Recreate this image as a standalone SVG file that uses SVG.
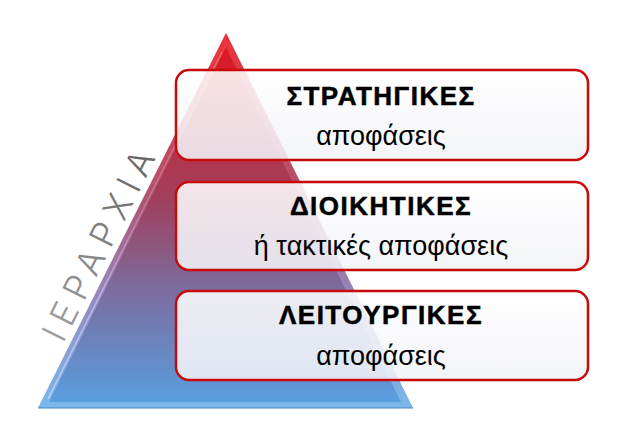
<svg xmlns="http://www.w3.org/2000/svg" width="640" height="446" viewBox="0 0 640 446">
  <defs>
    <linearGradient id="pyr" x1="0" y1="33" x2="0" y2="408" gradientUnits="userSpaceOnUse">
      <stop offset="0" stop-color="#e3141e"/>
      <stop offset="0.2" stop-color="#c42a3c"/>
      <stop offset="0.45" stop-color="#a0405e"/>
      <stop offset="0.68" stop-color="#7c6c9e"/>
      <stop offset="1" stop-color="#58a0e2"/>
    </linearGradient>
    <linearGradient id="bevel" x1="0" y1="33" x2="0" y2="408" gradientUnits="userSpaceOnUse">
      <stop offset="0" stop-color="#ff6a70"/>
      <stop offset="0.45" stop-color="#c87a98"/>
      <stop offset="0.7" stop-color="#c8b8f0"/>
      <stop offset="1" stop-color="#b8e4ff"/>
    </linearGradient>
    <linearGradient id="boxfill" x1="0" y1="0" x2="0" y2="1">
      <stop offset="0" stop-color="#ffffff" stop-opacity="0.87"/>
      <stop offset="1" stop-color="#f2f3f8" stop-opacity="0.87"/>
    </linearGradient>
    <linearGradient id="txtgrey" x1="0" y1="0" x2="1" y2="0">
      <stop offset="0" stop-color="#a0a0a0"/>
      <stop offset="1" stop-color="#666666"/>
    </linearGradient>
  </defs>
  <style>
    .box { fill: url(#boxfill); stroke: #c80a0a; stroke-width: 2.5; }
    .t1 { font-family: "Liberation Sans", Arial, sans-serif; font-weight: bold; font-size: 26px; letter-spacing: 1.5px; text-anchor: middle; fill: #000; stroke: #000; stroke-width: 0.5px; }
    .t2 { font-family: "Liberation Sans", Arial, sans-serif; font-size: 27px; text-anchor: middle; fill: #000; }
    .hier { font-family: Inter, "Liberation Sans", sans-serif; font-weight: 300; font-size: 35px; fill: url(#txtgrey); }
  </style>
  <rect width="640" height="446" fill="#ffffff"/>

  <g id="pyramid">
    <polygon points="226,33 38,408 413,408" fill="url(#pyr)"/>
    <polygon points="226,33 38,408 413,408" fill="url(#bevel)" opacity="0.35"/>
    <polygon points="226,47 49,402 401,402" fill="url(#pyr)"/>
    <line x1="222" y1="52" x2="48" y2="399" stroke="url(#bevel)" stroke-width="1.6" opacity="0.8"/>
    <line x1="38" y1="408" x2="413" y2="408" stroke="#4a86c0" stroke-width="1"/>
  </g>

  <g id="label-hierarchy">
    <text class="hier" transform="translate(63,344) rotate(-63.4)" textLength="208" lengthAdjust="spacing">ΙΕΡΑΡΧΙΑ</text>
  </g>

  <g id="node-strategic">
    <rect class="box" x="176" y="70" width="412" height="90" rx="13" ry="13"/>
    <text class="t1" x="381" y="105">ΣΤΡΑΤΗΓΙΚΕΣ</text>
    <text class="t2" x="381" y="145">αποφάσεις</text>
  </g>

  <g id="node-administrative">
    <rect class="box" x="176" y="182" width="412" height="88" rx="13" ry="13"/>
    <text class="t1" x="381" y="215">ΔΙΟΙΚΗΤΙΚΕΣ</text>
    <text class="t2" x="381" y="255">ή τακτικές αποφάσεις</text>
  </g>

  <g id="node-operational">
    <rect class="box" x="176" y="291" width="412" height="89" rx="13" ry="13"/>
    <text class="t1" x="381" y="324">ΛΕΙΤΟΥΡΓΙΚΕΣ</text>
    <text class="t2" x="381" y="365">αποφάσεις</text>
  </g>

  <g id="connectors"></g>
</svg>
